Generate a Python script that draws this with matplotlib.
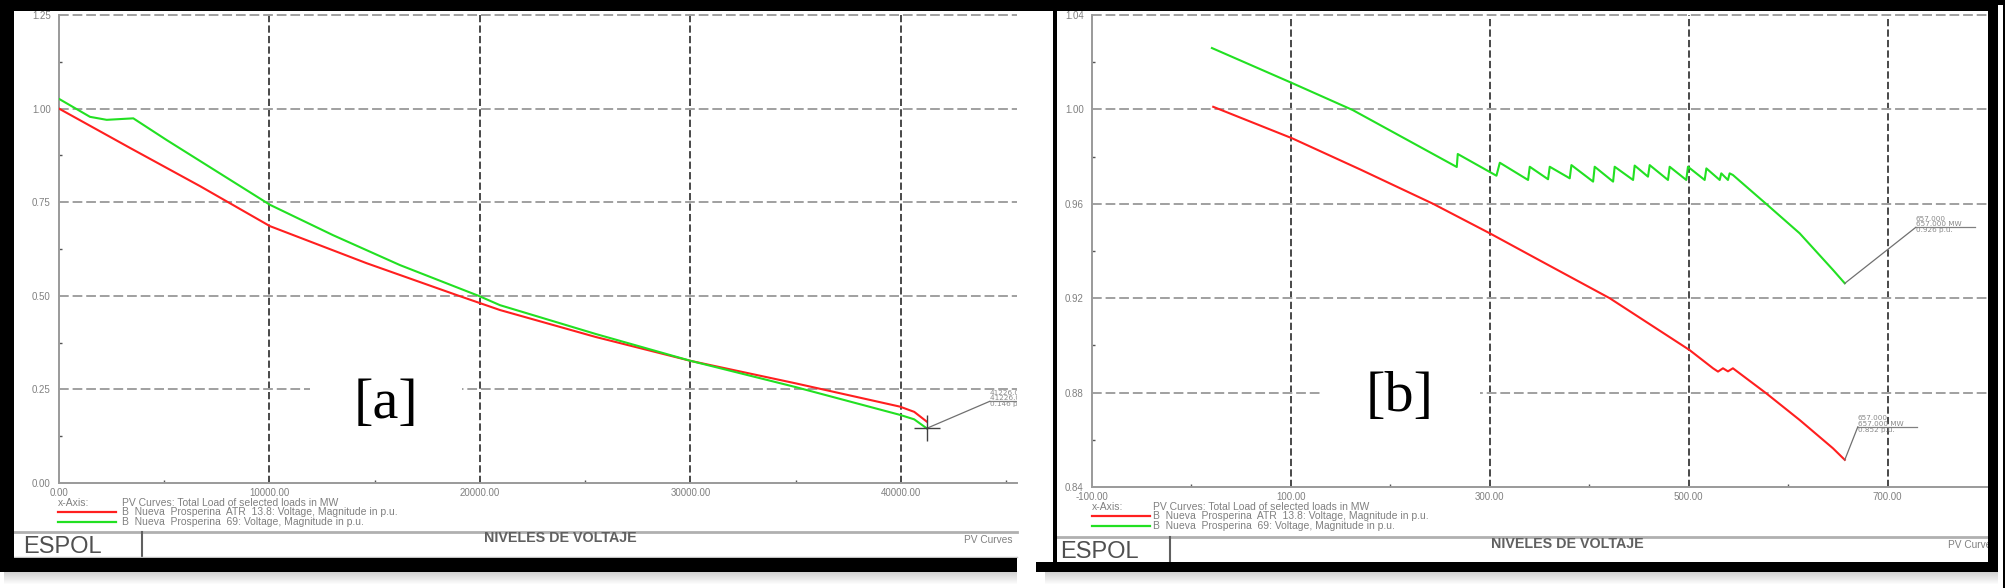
import matplotlib
matplotlib.use("Agg")
import matplotlib.pyplot as plt
from matplotlib.patches import Rectangle
from matplotlib.lines import Line2D

plt.rcParams['font.family'] = ['Liberation Sans', 'DejaVu Sans']

W, H = 2005, 588

# ---- panel [a]: PV curves, total load in MW vs voltage in p.u.
load_a_atr = [0, 3373, 6698, 10024, 14618, 18893, 20950, 25500, 30024, 35012, 39952, 40632, 41226]
volt_a_atr = [1.000, 0.895, 0.793, 0.686, 0.587, 0.502, 0.462, 0.390, 0.326, 0.266, 0.204, 0.190, 0.164]
load_a_69 = [0, 1473, 2266, 3530, 5116, 10024, 13017, 16200, 19952, 20950, 25500, 30024, 35012,
             39952, 40632, 41226]
volt_a_69 = [1.026, 0.978, 0.970, 0.974, 0.916, 0.743, 0.662, 0.582, 0.4995, 0.475, 0.398, 0.326, 0.256,
             0.182, 0.170, 0.146]

# ---- panel [b]
load_b_atr = [21.9, 101, 170, 243, 300, 350.3, 420.6, 501, 524.5, 529.5, 534.5, 539.5, 544.5,
              578, 611.6, 645.1, 657]
volt_b_atr = [1.0011, 0.9878, 0.9745, 0.960, 0.9475, 0.9360, 0.920, 0.898, 0.8903, 0.8889, 0.8903,
              0.8890, 0.8903, 0.8797, 0.8684, 0.8564, 0.8515]
load_b_69 = [20.6, 101, 162.3, 266.8, 267.8, 306.7, 310.1, 338.5, 340.2, 358.6, 360.3, 380.4, 382.1,
             403.9, 405.5, 424.0, 425.6, 444.1, 445.7, 459.1, 460.8, 479.2, 480.9, 497.6, 499.3,
             516.1, 517.8, 531.2, 532.8, 539.5, 541.2, 544.5, 578.1, 611.6, 645.1, 657]
volt_b_69 = [1.026, 1.0112, 0.9997, 0.9756, 0.9811, 0.9719, 0.9774, 0.9701, 0.9757, 0.9704, 0.9757,
             0.9708, 0.9764, 0.9694, 0.9757, 0.9694, 0.9757, 0.9701, 0.9762, 0.9715, 0.9764, 0.9701,
             0.9757, 0.9701, 0.9757, 0.9701, 0.9750, 0.9701, 0.9729, 0.9701, 0.9729, 0.9722, 0.9599,
             0.9475, 0.9320, 0.9263]

xticks_a = [0, 10000, 20000, 30000, 40000]
xminor_a = [5000, 15000, 25000, 35000, 45000]
yticks_a = [0.00, 0.25, 0.50, 0.75, 1.00, 1.25]
xticks_b = [-100, 100, 300, 500, 700]
xminor_b = [0, 200, 400, 600]
yticks_b = [0.84, 0.88, 0.92, 0.96, 1.00, 1.04]

legend_axis = 'PV Curves: Total Load of selected loads in MW'
legend_atr = 'B  Nueva  Prosperina  ATR  13.8: Voltage, Magnitude in p.u.'
legend_69 = 'B  Nueva  Prosperina  69: Voltage, Magnitude in p.u.'

RED = '#ff1f1f'
GREEN = '#22e022'
GRAY_TXT = '#808080'

fig = plt.figure(figsize=(W / 100, H / 100), dpi=100)


def rect(x0, y0, x1, y1):
    # pixel box (origin top-left) -> figure fraction
    return [x0 / W, 1 - y1 / H, (x1 - x0) / W, (y1 - y0) / H]


def box(x0, y0, x1, y1, color, z=5, alpha=1.0):
    fig.add_artist(Rectangle((x0 / W, 1 - y1 / H), (x1 - x0) / W, (y1 - y0) / H,
                             transform=fig.transFigure, facecolor=color,
                             edgecolor='none', zorder=z, alpha=alpha))


def fline(xs, ys, color, lw, z=2):
    fig.add_artist(Line2D([x / W for x in xs], [1 - y / H for y in ys],
                          transform=fig.transFigure, color=color, lw=lw, zorder=z))


def ftext(x, y, s, **kw):
    fig.text(x / W, 1 - y / H, s, **kw)


def setup(ax, xlim, ylim, xt, xm, yt):
    ax.set_xlim(xlim)
    ax.set_ylim(ylim)
    for s in ['top', 'right']:
        ax.spines[s].set_visible(False)
    for s in ['left', 'bottom']:
        ax.spines[s].set_color('#9a9a9a')
        ax.spines[s].set_linewidth(1.4)
    ax.set_xticks(xt, labels=[f'{v:.2f}' for v in xt])
    ax.set_xticks(xm, minor=True)
    ax.set_yticks(yt, labels=[f'{v:.2f}' for v in yt])
    ax.set_yticks([(a + b) / 2 for a, b in zip(yt[:-1], yt[1:])], minor=True)
    ax.tick_params(which='major', length=0, labelsize=7, labelcolor=GRAY_TXT)
    ax.tick_params(axis='y', pad=6)
    ax.tick_params(axis='x', pad=3.5)
    ax.tick_params(which='minor', direction='in', length=2.5, width=1, color='#555555')
    for v in xt[1:]:
        ax.axvline(v, color='#3a3a3a', lw=1.3, dashes=(4, 1.8), zorder=1, clip_on=False)
    for v in yt[1:]:
        ax.axhline(v, color='#a0a0a0', lw=1.4, dashes=(5, 2), zorder=1, clip_on=False)


def nose_label(ax, x, y, dx, dy, ul, cross=False):
    px, py = ax.transData.transform((x, y))
    inv = ax.transData.inverted()
    tx, ty = inv.transform((px + dx, py + dy))
    ux, _ = inv.transform((px + dx + ul, py + dy))
    ax.plot([x, tx], [y, ty], color='#707070', lw=0.9, zorder=4, clip_on=False)
    ax.plot([tx, ux], [ty, ty], color='#808080', lw=0.9, zorder=4, clip_on=True)
    if cross:
        ax.plot([x], [y], marker='+', ms=19, mew=1.0, color='#404040', zorder=5, clip_on=False)
    kw = dict(fontsize=5.2, color='#8a8a8a', family='DejaVu Sans', clip_on=True,
              linespacing=0.95, ha='left', zorder=4)
    ax.text(tx, ty, f'{x:.3f}\n{x:.3f} MW', va='bottom', **kw)
    ax.text(tx, ty, f'{y:.3f} p.u.', va='top', **kw)


# ---------------- panel [a]
ax_a = fig.add_axes(rect(59, 15, 1016.7, 483))
setup(ax_a, (0, 45500), (0, 1.25), xticks_a, xminor_a, yticks_a)
ax_a.plot(load_a_atr, volt_a_atr, color=RED, lw=1.5, zorder=3)
ax_a.plot(load_a_69, volt_a_69, color=GREEN, lw=1.5, zorder=3)
nose_label(ax_a, load_a_69[-1], volt_a_69[-1], 63, 27, 30, cross=True)

# ---------------- panel [b]
ax_b = fig.add_axes(rect(1092, 15, 1987, 487))
setup(ax_b, (-100, 800), (0.84, 1.04), xticks_b, xminor_b, yticks_b)
ax_b.plot(load_b_atr, volt_b_atr, color=RED, lw=1.5, zorder=3)
ax_b.plot(load_b_69, volt_b_69, color=GREEN, lw=1.5, zorder=3)
nose_label(ax_b, load_b_69[-1], volt_b_69[-1], 71, 56, 59)
nose_label(ax_b, load_b_atr[-1], volt_b_atr[-1], 13, 33, 59)

# panel labels on white boxes
box(310, 376, 462, 432, 'white', z=1)
ftext(386, 404, '[a]', fontsize=42, family='Liberation Serif', ha='center', va='center')
box(1320, 370, 1480, 426, 'white', z=1)
ftext(1400, 397, '[b]', fontsize=42, family='Liberation Serif', ha='center', va='center')

# legends
for lx, ly, tx in [(58, 503, 122), (1092, 507, 1153)]:
    ftext(lx, ly, 'x-Axis:', fontsize=7.5, color=GRAY_TXT, va='center')
    ftext(tx, ly, legend_axis, fontsize=7.5, color=GRAY_TXT, va='center')
    fline([lx, lx + 58], [ly + 9, ly + 9], RED, 1.6)
    ftext(tx, ly + 9, legend_atr, fontsize=7.5, color=GRAY_TXT, va='center')
    fline([lx, lx + 58], [ly + 19, ly + 19], GREEN, 1.6)
    ftext(tx, ly + 19, legend_69, fontsize=7.5, color=GRAY_TXT, va='center')

# title blocks
fline([14, 1016.7], [532, 532], '#b0b0b0', 2.0)
fline([142, 142], [532, 558], '#606060', 1.5)
fline([14, 1016.7], [557, 557], '#c0c0c0', 1.0)
ftext(23, 547, 'ESPOL', fontsize=17, color='#505050', va='center')
ftext(560, 538, 'NIVELES DE VOLTAJE', fontsize=10.3, weight='bold', color='#606060',
      ha='center', va='center')
ftext(964, 540, 'PV Curves', fontsize=7.3, color=GRAY_TXT, va='center')

fline([1057, 1988], [537, 537], '#b0b0b0', 2.0)
fline([1170, 1170], [537, 562], '#606060', 1.5)
ftext(1060, 552, 'ESPOL', fontsize=17, color='#505050', va='center')
ftext(1567, 544, 'NIVELES DE VOLTAJE', fontsize=10.3, weight='bold', color='#606060',
      ha='center', va='center')
ftext(1948, 545, 'PV Curves', fontsize=7.3, color=GRAY_TXT, va='center')

# black frames
box(0, 0, 1998, 11, 'black')
box(1998, 0, 2005, 5, 'black')
box(0, 0, 14, 572, 'black')
box(0, 558, 1017, 572, 'black')
box(1053, 0, 1057, 572, 'black')
box(1036, 562, 1998, 572, 'black')
box(1988, 0, 1998, 572, 'black')
box(2003, 0, 2005, 588, 'black')

# soft drop shadow under the frames
for i in range(12):
    a = 0.35 * (1 - i / 12)
    box(4, 572 + i, 1017, 573 + i, '#808080', z=4, alpha=a)
    box(1045, 572 + i, 1998, 573 + i, '#808080', z=4, alpha=a)

fig.savefig('out.png', dpi=100, facecolor='white')
